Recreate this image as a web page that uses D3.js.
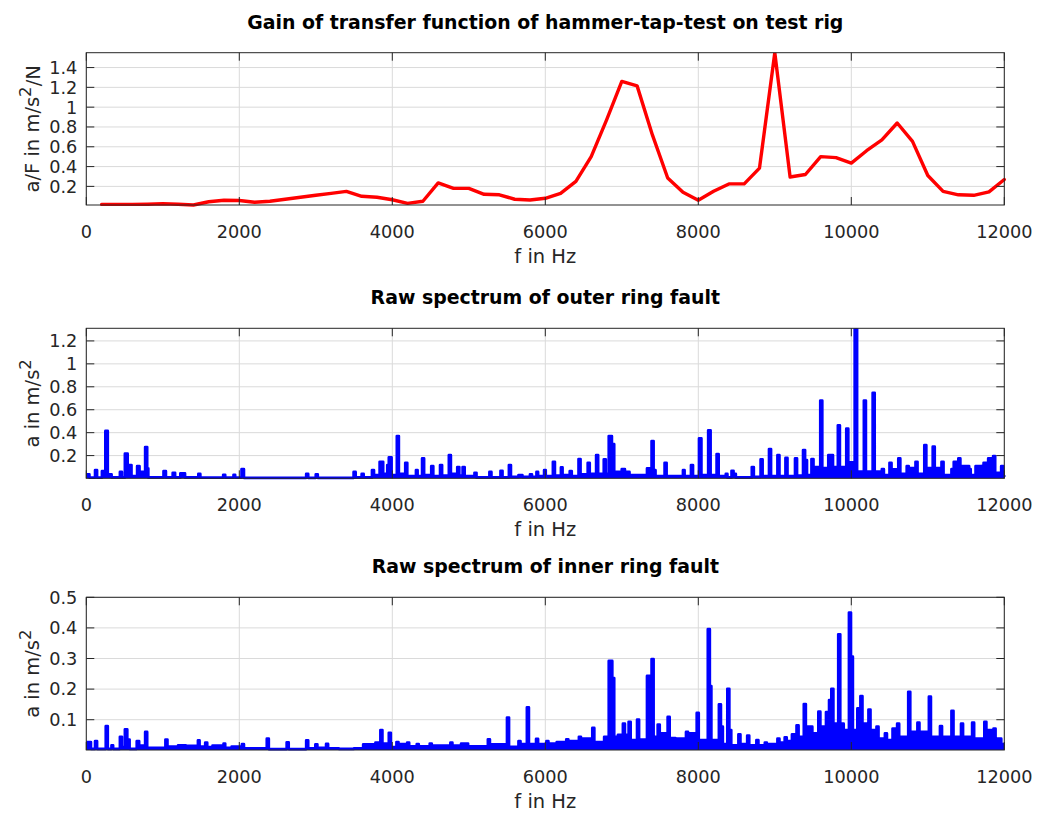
<!DOCTYPE html>
<html>
<head>
<meta charset="utf-8">
<script src="https://cdn.jsdelivr.net/npm/d3@7"></script>
<style>
  html, body { margin: 0; padding: 0; background: #fff; }
  svg { display: block; font-family: "DejaVu Sans", sans-serif; }
</style>
</head>
<body>
<svg id="chart" width="1040" height="814"></svg>
<script>
// ---- Data ----
// Gain of the transfer function (hammer tap test), sampled every 200 Hz
const gainFreq = [200, 400, 600, 800, 1000, 1200, 1400, 1600, 1800, 2000, 2200, 2400, 2600, 2800, 3000, 3200,
  3400, 3600, 3800, 4000, 4200, 4400, 4600, 4800, 5000, 5200, 5400, 5600, 5800, 6000, 6200, 6400, 6600, 6800,
  7000, 7200, 7400, 7600, 7800, 8000, 8200, 8400, 8600, 8800, 9000, 9200, 9400, 9600, 9800, 10000, 10200,
  10400, 10600, 10800, 11000, 11200, 11400, 11600, 11800, 12000];
const gainValue = [0.018, 0.018, 0.018, 0.02, 0.025, 0.02, 0.012, 0.045, 0.06, 0.058, 0.04, 0.05, 0.07, 0.09,
  0.11, 0.13, 0.15, 0.10, 0.09, 0.065, 0.028, 0.05, 0.235, 0.18, 0.18, 0.12, 0.115, 0.07, 0.062, 0.08, 0.13,
  0.25, 0.50, 0.87, 1.26, 1.215, 0.72, 0.285, 0.14, 0.06, 0.15, 0.225, 0.225, 0.385, 1.55, 0.295, 0.32, 0.50,
  0.49, 0.435, 0.56, 0.67, 0.84, 0.655, 0.31, 0.15, 0.115, 0.11, 0.145, 0.27];

// Raw spectrum, outer ring fault (frequency in Hz, amplitude in m/s^2)
const outerFreq = [0, 40, 115, 140, 205, 250, 280, 330, 440, 465, 505, 540, 560, 590, 665, 695, 770, 795, 810,
  1010, 1040, 1130, 1160, 1230, 1290, 1465, 1490, 1790, 1815, 1925, 1945, 2030, 2060, 2875, 2900, 3000, 3025,
  3495, 3520, 3600, 3625, 3735, 3760, 3835, 3880, 3935, 3955, 3990, 4060, 4085, 4170, 4195, 4310, 4330, 4390,
  4415, 4510, 4535, 4625, 4650, 4740, 4765, 4850, 4875, 4920, 4945, 5075, 5100, 5270, 5295, 5415, 5440, 5525,
  5550, 5650, 5700, 5800, 5825, 5885, 5905, 5985, 6005, 6100, 6125, 6205, 6225, 6320, 6345, 6435, 6460, 6555,
  6580, 6665, 6690, 6765, 6790, 6830, 6870, 6900, 7000, 7040, 7100, 7330, 7390, 7415, 7440, 7560, 7585, 7800,
  7820, 7905, 7930, 8010, 8040, 8130, 8160, 8240, 8265, 8360, 8380, 8435, 8460, 8490, 8700, 8725, 8815, 8840,
  8925, 8950, 9035, 9060, 9140, 9165, 9265, 9290, 9370, 9395, 9420, 9480, 9505, 9550, 9595, 9620, 9700, 9760,
  9825, 9850, 9935, 9960, 10045, 10075, 10165, 10190, 10280, 10305, 10400, 10425, 10500, 10525, 10615, 10640,
  10725, 10750, 10840, 10865, 10955, 10980, 11065, 11090, 11180, 11205, 11310, 11340, 11400, 11425, 11540,
  11560, 11625, 11710, 11730, 11790, 11855, 11880, 11960, 11985, 12000];
const outerAmp = [0.035, 0.008, 0.073, 0.008, 0.064, 0.415, 0.035, 0.01, 0.058, 0.01, 0.216, 0.05, 0.117, 0.02,
  0.108, 0.058, 0.274, 0.088, 0.01, 0.064, 0.01, 0.05, 0.01, 0.044, 0.01, 0.04, 0.008, 0.032, 0.008, 0.032,
  0.008, 0.082, 0.006, 0.04, 0.006, 0.035, 0.006, 0.058, 0.01, 0.04, 0.01, 0.073, 0.03, 0.146, 0.04, 0.117,
  0.184, 0.03, 0.37, 0.04, 0.137, 0.02, 0.073, 0.02, 0.175, 0.03, 0.108, 0.02, 0.117, 0.025, 0.204, 0.04,
  0.10, 0.025, 0.10, 0.02, 0.05, 0.01, 0.058, 0.01, 0.067, 0.01, 0.117, 0.015, 0.03, 0.015, 0.035, 0.015,
  0.058, 0.02, 0.073, 0.02, 0.146, 0.025, 0.096, 0.03, 0.064, 0.02, 0.17, 0.035, 0.137, 0.04, 0.204, 0.04,
  0.166, 0.04, 0.37, 0.30, 0.058, 0.082, 0.058, 0.03, 0.088, 0.327, 0.073, 0.02, 0.137, 0.02, 0.073, 0.02,
  0.117, 0.02, 0.35, 0.03, 0.42, 0.03, 0.213, 0.02, 0.04, 0.01, 0.067, 0.04, 0.01, 0.10, 0.015, 0.166, 0.02,
  0.257, 0.02, 0.204, 0.02, 0.18, 0.02, 0.175, 0.025, 0.248, 0.16, 0.03, 0.17, 0.10, 0.10, 0.68, 0.09, 0.204,
  0.10, 0.464, 0.10, 0.435, 0.14, 1.31, 0.06, 0.68, 0.06, 0.747, 0.06, 0.082, 0.03, 0.137, 0.08, 0.175, 0.04,
  0.108, 0.09, 0.146, 0.04, 0.29, 0.09, 0.277, 0.09, 0.146, 0.03, 0.082, 0.146, 0.175, 0.108, 0.082, 0.03,
  0.108, 0.11, 0.137, 0.175, 0.196, 0.05, 0.108, 0.02, 0.015];

// Raw spectrum, inner ring fault (frequency in Hz, amplitude in m/s^2)
const innerFreq = [0, 60, 115, 140, 255, 280, 330, 350, 440, 465, 505, 535, 565, 660, 690, 770, 795, 1035, 1060,
  1200, 1300, 1460, 1480, 1555, 1580, 1650, 1795, 1815, 1900, 2035, 2060, 2360, 2385, 2620, 2645, 2875, 2900,
  2995, 3020, 3135, 3160, 3300, 3500, 3620, 3780, 3845, 3870, 3955, 3980, 4055, 4080, 4195, 4220, 4320, 4345,
  4490, 4515, 4600, 4760, 4785, 4900, 4960, 4990, 5100, 5250, 5275, 5400, 5500, 5525, 5650, 5675, 5760, 5785,
  5880, 5905, 6015, 6040, 6150, 6275, 6300, 6440, 6465, 6615, 6640, 6770, 6830, 6875, 6900, 6950, 7015, 7040,
  7090, 7115, 7200, 7225, 7330, 7390, 7415, 7470, 7495, 7600, 7625, 7700, 7840, 7865, 7980, 8005, 8125, 8150,
  8170, 8270, 8295, 8320, 8380, 8405, 8430, 8525, 8550, 8640, 8665, 8760, 8785, 8870, 8895, 9035, 9060, 9130,
  9155, 9225, 9285, 9310, 9380, 9405, 9450, 9490, 9570, 9595, 9670, 9710, 9740, 9765, 9830, 9855, 9900, 9970,
  9995, 10020, 10080, 10120, 10145, 10225, 10250, 10330, 10355, 10440, 10465, 10540, 10600, 10625, 10745,
  10770, 10865, 10890, 11015, 11040, 11160, 11185, 11310, 11335, 11435, 11460, 11580, 11605, 11740, 11765,
  11860, 11885, 11960, 12000];
const innerAmp = [0.027, 0.005, 0.03, 0.005, 0.079, 0.005, 0.016, 0.005, 0.044, 0.01, 0.068, 0.035, 0.005, 0.03,
  0.015, 0.06, 0.008, 0.035, 0.012, 0.016, 0.014, 0.032, 0.012, 0.025, 0.01, 0.015, 0.022, 0.008, 0.012, 0.02,
  0.006, 0.038, 0.004, 0.026, 0.004, 0.032, 0.006, 0.019, 0.008, 0.021, 0.006, 0.005, 0.006, 0.019, 0.025,
  0.066, 0.022, 0.057, 0.01, 0.027, 0.02, 0.025, 0.013, 0.02, 0.013, 0.022, 0.015, 0.015, 0.025, 0.015, 0.022,
  0.022, 0.013, 0.013, 0.036, 0.019, 0.019, 0.107, 0.011, 0.03, 0.02, 0.14, 0.02, 0.037, 0.02, 0.03, 0.022,
  0.027, 0.036, 0.03, 0.044, 0.038, 0.073, 0.027, 0.044, 0.292, 0.236, 0.044, 0.05, 0.087, 0.05, 0.093, 0.033,
  0.10, 0.035, 0.243, 0.298, 0.044, 0.084, 0.055, 0.109, 0.04, 0.038, 0.06, 0.055, 0.122, 0.033, 0.396, 0.21,
  0.033, 0.15, 0.077, 0.02, 0.201, 0.066, 0.016, 0.052, 0.02, 0.048, 0.016, 0.033, 0.016, 0.025, 0.02, 0.038,
  0.025, 0.042, 0.03, 0.052, 0.081, 0.044, 0.151, 0.077, 0.077, 0.055, 0.126, 0.077, 0.125, 0.164, 0.201,
  0.087, 0.379, 0.087, 0.066, 0.45, 0.306, 0.066, 0.137, 0.177, 0.087, 0.133, 0.066, 0.077, 0.038, 0.055,
  0.033, 0.071, 0.087, 0.044, 0.191, 0.06, 0.09, 0.06, 0.175, 0.044, 0.079, 0.044, 0.129, 0.044, 0.087,
  0.044, 0.09, 0.038, 0.093, 0.066, 0.071, 0.038, 0.02, 0.02];

// Axis tick labels
const freqTicks = [0, 2000, 4000, 6000, 8000, 10000, 12000];
const gainTicks = [0.2, 0.4, 0.6, 0.8, 1, 1.2, 1.4];
const outerTicks = [0.2, 0.4, 0.6, 0.8, 1, 1.2];
const innerTicks = [0.1, 0.2, 0.3, 0.4, 0.5];

// ---- Drawing ----
const svg = d3.select("#chart");
const AX = "#262626";
const GRID = "#dadada";
const left = 86.3, right = 1004.3;
const tickFont = 17.7, labelFont = 19.5, titleFont = 18.9;

function panel(cfg) {
  const { id, top, bottom, title, yDomain, yTicks, freq, amp, color, width, step, ylabel } = cfg;
  const x = d3.scaleLinear().domain([0, 12000]).range([left, right]);
  const y = d3.scaleLinear().domain(yDomain).range([bottom, top]);
  const g = svg.append("g");

  // grid
  g.selectAll(".gx").data(freqTicks).join("line")
    .attr("x1", d => x(d)).attr("x2", d => x(d)).attr("y1", top).attr("y2", bottom)
    .attr("stroke", GRID).attr("stroke-width", 1);
  g.selectAll(".gy").data(yTicks).join("line")
    .attr("x1", left).attr("x2", right).attr("y1", d => y(d)).attr("y2", d => y(d))
    .attr("stroke", GRID).attr("stroke-width", 1);

  // clip: the top edge cuts the tallest peak, the lower edge lets the trace sit on the axis
  svg.append("clipPath").attr("id", "clip-" + id)
    .append("rect").attr("x", left - 2).attr("y", top).attr("width", right - left + 4).attr("height", bottom - top + 2.5);

  const pts = freq.map((f, i) => [f, amp[i]]);
  const plot = g.append("g").attr("clip-path", `url(#clip-${id})`);
  if (step) {
    plot.append("path").datum(pts)
      .attr("d", d3.area().curve(d3.curveStepAfter).x(d => x(d[0])).y0(bottom).y1(d => y(d[1])))
      .attr("fill", color);
    plot.append("path").datum(pts)
      .attr("d", d3.line().curve(d3.curveStepAfter).x(d => x(d[0])).y(d => y(d[1])))
      .attr("fill", "none").attr("stroke", color).attr("stroke-width", width).attr("stroke-linejoin", "round");
  } else {
    plot.append("path").datum(pts)
      .attr("d", d3.line().x(d => x(d[0])).y(d => y(d[1])))
      .attr("fill", "none").attr("stroke", color).attr("stroke-width", width)
      .attr("stroke-linejoin", "round").attr("stroke-linecap", "round");
  }

  // box
  g.append("rect").attr("x", left).attr("y", top).attr("width", right - left).attr("height", bottom - top)
    .attr("fill", "none").attr("stroke", AX).attr("stroke-width", 1);

  // inward ticks (bottom/top, left/right)
  const tl = 8;
  freqTicks.forEach(t => {
    g.append("line").attr("x1", x(t)).attr("x2", x(t)).attr("y1", bottom).attr("y2", bottom - tl).attr("stroke", AX);
    g.append("line").attr("x1", x(t)).attr("x2", x(t)).attr("y1", top).attr("y2", top + tl).attr("stroke", AX);
  });
  yTicks.forEach(t => {
    g.append("line").attr("x1", left).attr("x2", left + tl).attr("y1", y(t)).attr("y2", y(t)).attr("stroke", AX);
    g.append("line").attr("x1", right).attr("x2", right - tl).attr("y1", y(t)).attr("y2", y(t)).attr("stroke", AX);
  });

  // tick labels
  g.selectAll(".xt").data(freqTicks).join("text")
    .attr("x", d => x(d)).attr("y", bottom + 33)
    .attr("text-anchor", "middle").attr("font-size", tickFont).attr("fill", AX)
    .text(d => d);
  g.selectAll(".yt").data(yTicks).join("text")
    .attr("x", left - 9).attr("y", d => y(d)).attr("dy", "0.36em")
    .attr("text-anchor", "end").attr("font-size", tickFont).attr("fill", AX)
    .text(d => d);

  // axis labels
  g.append("text").attr("x", (left + right) / 2).attr("y", bottom + 58)
    .attr("text-anchor", "middle").attr("font-size", labelFont).attr("fill", AX)
    .text("f in Hz");
  const yl = g.append("text")
    .attr("transform", `translate(39,${(top + bottom) / 2}) rotate(-90)`)
    .attr("text-anchor", "middle").attr("font-size", labelFont).attr("fill", AX);
  yl.append("tspan").text(ylabel[0]);
  yl.append("tspan").attr("dy", "-0.5em").attr("font-size", "85%").text("2");
  if (ylabel[1]) yl.append("tspan").attr("dy", "0.5em").text(ylabel[1]);

  // title
  g.append("text").attr("x", (left + right) / 2).attr("y", top - 24)
    .attr("text-anchor", "middle").attr("font-size", titleFont).attr("font-weight", "bold").attr("fill", "#000")
    .text(title);
}

panel({
  id: "gain", top: 52.7, bottom: 205,
  title: "Gain of transfer function of hammer-tap-test on test rig",
  yDomain: [d3.min(gainValue), d3.max(gainValue)], yTicks: gainTicks,
  freq: gainFreq, amp: gainValue, color: "#ff0000", width: 3.4, step: false,
  ylabel: ["a/F in m/s", "/N"]
});
panel({
  id: "outer", top: 328.3, bottom: 478.3,
  title: "Raw spectrum of outer ring fault",
  yDomain: [0.002, d3.max(outerAmp)], yTicks: outerTicks,
  freq: outerFreq, amp: outerAmp, color: "#0000ff", width: 2.8, step: true,
  ylabel: ["a in m/s", null]
});
panel({
  id: "inner", top: 597.3, bottom: 750,
  title: "Raw spectrum of inner ring fault",
  yDomain: [0.001, 0.5], yTicks: innerTicks,
  freq: innerFreq, amp: innerAmp, color: "#0000ff", width: 2.8, step: true,
  ylabel: ["a in m/s", null]
});
</script>
</body>
</html>
